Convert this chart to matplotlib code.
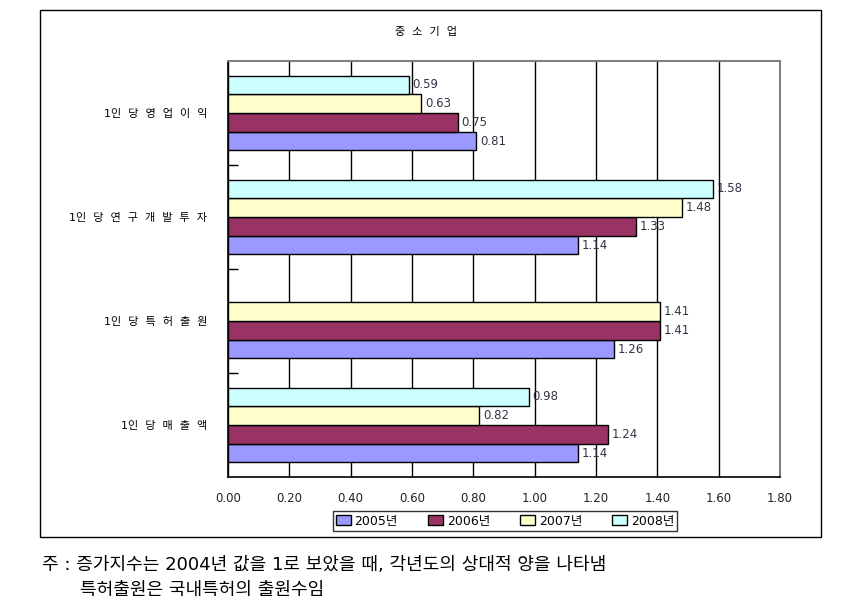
import numpy as np
from matplotlib import pyplot as plt
from matplotlib.patches import Rectangle

plt.rcParams['font.family'] = ['DejaVu Sans', 'Noto Sans CJK KR']

# data
categories = ['1인  당  영  업  이  익', '1인  당  연  구  개  발  투  자',
              '1인  당  특  허  출  원', '1인  당  매  출  액']
years = ['2005년', '2006년', '2007년', '2008년']
v2005 = [0.81, 1.14, 1.26, 1.14]
v2006 = [0.75, 1.33, 1.41, 1.24]
v2007 = [0.63, 1.48, 1.41, 0.82]
v2008 = [0.59, 1.58, np.nan, 0.98]
series = [v2005, v2006, v2007, v2008]
colors = ['#9999FF', '#993366', '#FFFFCC', '#CCFFFF']
xticks = [0.0, 0.2, 0.4, 0.6, 0.8, 1.0, 1.2, 1.4, 1.6, 1.8]

W, H = 864, 614
fig = plt.figure(figsize=(W / 100, H / 100), dpi=100)
ax = fig.add_axes([228 / W, 1 - 477 / H, (780 - 228) / W, (477 - 61) / H])

centers = np.arange(len(categories)) + 0.5
offsets = [0.27, 0.09, -0.09, -0.27]
bh = 0.18
handles = []
for vals, col, off, yr in zip(series, colors, offsets, years):
    b = ax.barh(centers + off, vals, height=bh, color=col, edgecolor='black',
                linewidth=1, label=yr, zorder=3)
    handles.append(b)
    for y, v in zip(centers + off, vals):
        if np.isnan(v):
            continue
        ax.text(v + 0.012, y, f'{v:.2f}', va='center', ha='left',
                fontsize=8.5, color='#333344', zorder=4)

ax.set_xlim(0, 1.8)
ax.set_ylim(4, 0)
ax.set_xticks(xticks)
ax.set_xticklabels([f'{t:.2f}' for t in xticks], fontsize=8.5)
ax.tick_params(axis='x', length=0, pad=11, colors='#222222')
ax.set_yticks(centers)
ax.set_yticklabels(categories, fontsize=8)
ax.tick_params(axis='y', length=0, pad=15)
ax.set_yticks([1, 2, 3], minor=True)
ax.tick_params(axis='y', which='minor', direction='in', length=7, width=1)
ax.grid(axis='x', color='black', linewidth=1, zorder=0)
for s in ['left', 'bottom']:
    ax.spines[s].set_color('black')
    ax.spines[s].set_linewidth(1.2)
for s in ['top', 'right']:
    ax.spines[s].set_color('#808080')
    ax.spines[s].set_linewidth(1.5)

fig.text(426 / W, 1 - 32 / H, '중  소  기  업', ha='center', va='center', fontsize=8)

leg = fig.legend(handles=handles, labels=years, loc='center',
                 bbox_to_anchor=(505 / W, 1 - 521 / H), ncol=4, fontsize=9,
                 frameon=True, fancybox=False, edgecolor='black',
                 handlelength=1.2, handleheight=0.8, handletextpad=0.3,
                 columnspacing=2.4, borderpad=0.25)
leg.get_frame().set_linewidth(1)

fig.patches.append(Rectangle((40 / W, 1 - 537 / H), (821 - 40) / W, (537 - 10) / H,
                             transform=fig.transFigure, fill=False,
                             edgecolor='black', linewidth=1))

fig.text(42 / W, 1 - 565 / H, '주 : 증가지수는 2004년 값을 1로 보았을 때, 각년도의 상대적 양을 나타냄',
         ha='left', va='center', fontsize=13)
fig.text(80 / W, 1 - 590 / H, '특허출원은 국내특허의 출원수임',
         ha='left', va='center', fontsize=13)

fig.savefig('out.png', dpi=100)
